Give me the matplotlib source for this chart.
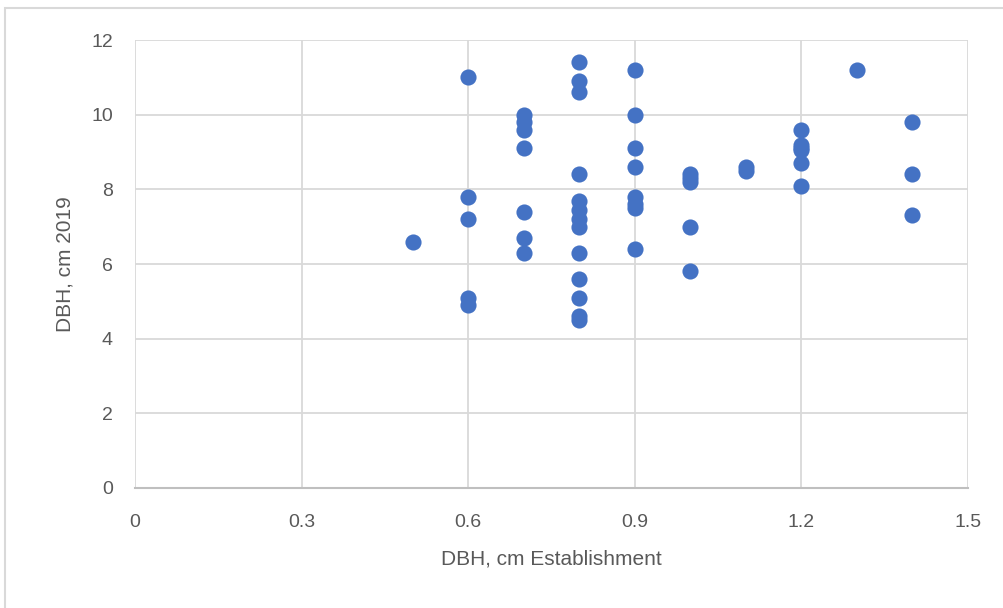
import matplotlib
matplotlib.use("Agg")
import matplotlib.pyplot as plt
from matplotlib.patches import Rectangle

x_est = [0.5,
         0.6, 0.6, 0.6, 0.6, 0.6,
         0.7, 0.7, 0.7, 0.7, 0.7, 0.7, 0.7,
         0.8, 0.8, 0.8, 0.8, 0.8, 0.8, 0.8, 0.8, 0.8, 0.8, 0.8, 0.8, 0.8,
         0.9, 0.9, 0.9, 0.9, 0.9, 0.9, 0.9, 0.9,
         1.0, 1.0, 1.0, 1.0, 1.0,
         1.1, 1.1,
         1.2, 1.2, 1.2, 1.2, 1.2, 1.2,
         1.3,
         1.4, 1.4, 1.4]
y_2019 = [6.6,
          11.0, 7.8, 7.2, 5.1, 4.9,
          10.0, 9.8, 9.6, 9.1, 7.4, 6.7, 6.3,
          11.4, 10.9, 10.6, 8.4, 7.7, 7.45, 7.2, 7.0, 6.3, 5.6, 5.1, 4.6, 4.5,
          11.2, 10.0, 9.1, 8.6, 7.8, 7.6, 7.5, 6.4,
          8.4, 8.3, 8.2, 7.0, 5.8,
          8.6, 8.5,
          9.6, 9.2, 9.05, 8.7, 8.1, 9.1,
          11.2,
          9.8, 8.4, 7.3]

x_ticks = [0, 0.3, 0.6, 0.9, 1.2, 1.5]
x_tick_labels = ["0", "0.3", "0.6", "0.9", "1.2", "1.5"]
y_ticks = [0, 2, 4, 6, 8, 10, 12]

plt.rcParams['font.family'] = ['Liberation Sans', 'DejaVu Sans']
fig = plt.figure(figsize=(10.04, 6.08), dpi=100)
fig.patches.append(Rectangle((5/1004, -0.1), 1.2, 1 - 8/608 + 0.1, transform=fig.transFigure,
                             fill=False, edgecolor='#D9D9D9', linewidth=1.5))
ax = fig.add_axes([135/1004, 1 - 488/608, (968 - 135)/1004, (488 - 40)/608])
ax.set_xlim(0, 1.5)
ax.set_ylim(0, 12)
ax.set_xticks(x_ticks)
ax.set_xticklabels(x_tick_labels)
ax.set_yticks(y_ticks)
ax.grid(True, color='#D9D9D9', linewidth=1.3)
ax.set_axisbelow(True)
for s in ['top', 'right', 'left']:
    ax.spines[s].set_visible(False)
ax.spines['bottom'].set_color('#BFBFBF')
ax.spines['bottom'].set_linewidth(1.5)
ax.tick_params(length=0, labelsize=14, colors='#595959')
ax.tick_params(axis='y', pad=16)
ax.tick_params(axis='x', pad=19)
ax.scatter(x_est, y_2019, s=135, color='#4472C4', zorder=3, linewidths=0)
ax.set_xlabel("DBH, cm Establishment", fontsize=15, color='#595959', labelpad=13)
ax.set_ylabel("DBH, cm 2019", fontsize=15, color='#595959', labelpad=12)
fig.savefig("out.png", dpi=100)
